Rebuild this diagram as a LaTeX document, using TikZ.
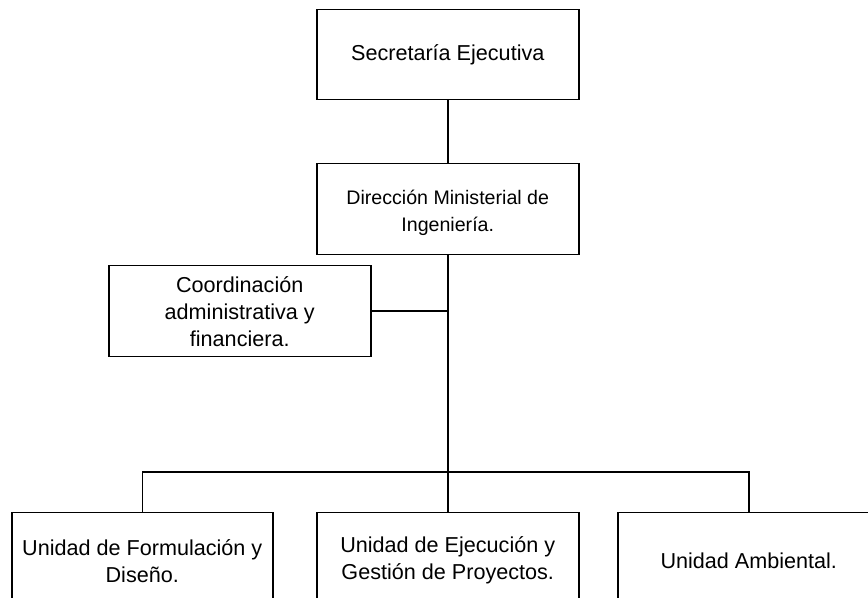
\documentclass[tikz,border=0pt]{standalone}
\usepackage{fontspec}
\setmainfont{Liberation Sans}
\begin{document}
\begin{tikzpicture}[x=0.5pt,y=-0.5pt,line width=0.75pt,
  box/.style={draw,rectangle,anchor=north west,align=center,inner sep=0pt,
    font=\fontsize{10.8}{13.5}\selectfont},
  link/.style={draw,line width=0.75pt}]
\path[use as bounding box] (0,0) rectangle (868,598);
\clip (0,0) rectangle (868,598);
\node[box,minimum width=131pt,minimum height=45pt] (sec) at (316,9) {Secretaría Ejecutiva};
\node[box,minimum width=131pt,minimum height=45.5pt,font=\fontsize{9.8}{13.5}\selectfont] (dir) at (316,163) {\raisebox{-4.5pt}[0pt][0pt]{\parbox{130pt}{\centering Dirección Ministerial de\\ Ingeniería.}}};
\node[box,minimum width=131pt,minimum height=45.5pt] (coo) at (108,265) {Coordinación\\ administrativa y\\ financiera.};
\node[box,minimum width=130.5pt,minimum height=48pt] (u1) at (11,512) {Unidad de Formulación y\\ Diseño.};
\node[box,minimum width=131pt,minimum height=48pt] (u2) at (316,512) {Unidad de Ejecución y\\ Gestión de Proyectos.};
\node[box,minimum width=131pt,minimum height=48pt] (u3) at (617,512) {Unidad Ambiental.};
\coordinate (bus) at (447,472);
\draw[link] (sec.south) -- (dir.north);
\draw[link] (dir.south) -- (u2.north);
\draw[link] (coo.east) -- (coo.east -| dir.south);
\draw[link] (u1.north) |- (bus) -| (u3.north);
\end{tikzpicture}
\end{document}
